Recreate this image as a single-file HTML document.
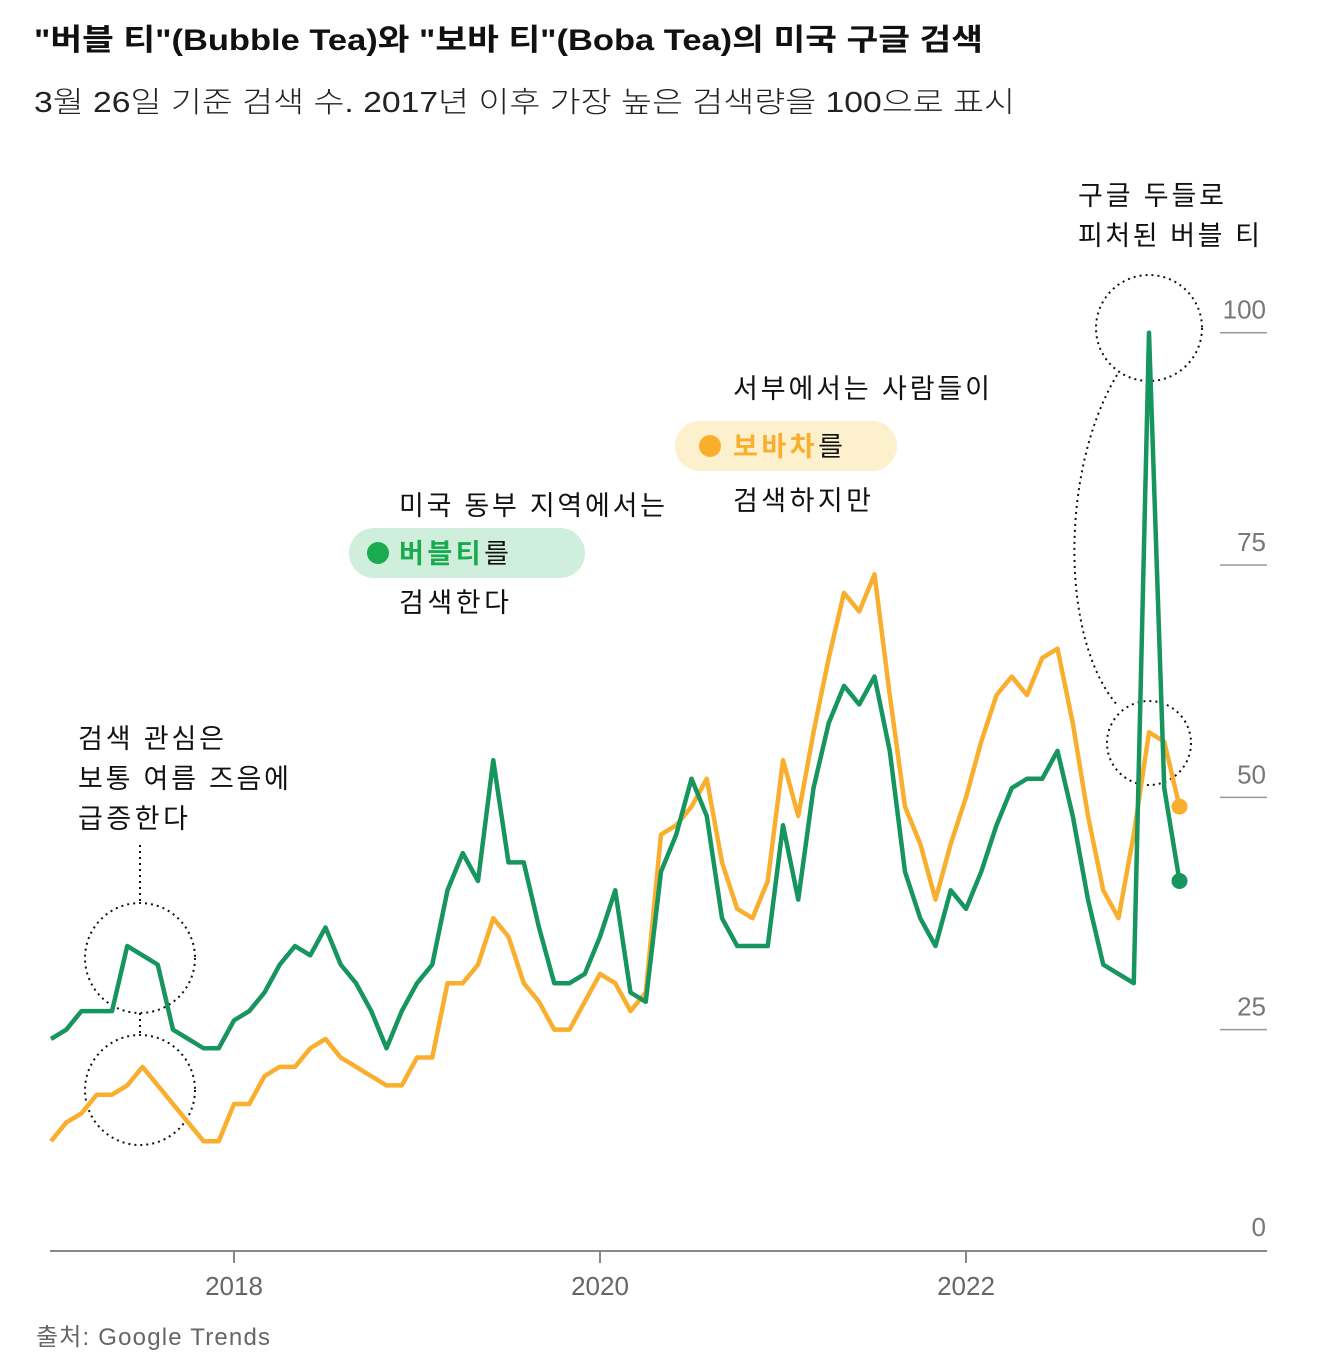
<!DOCTYPE html>
<html><head><meta charset="utf-8"><style>
body{margin:0;background:#fff;}
svg{display:block;font-family:"Liberation Sans","Noto Sans CJK KR",sans-serif;}
</style></head><body>
<svg id="c" width="1322" height="1356" viewBox="0 0 1322 1356">
<text x="34" y="50" font-size="30" font-weight="bold" fill="#111" textLength="949" lengthAdjust="spacingAndGlyphs">"버블 티"(Bubble Tea)와 "보바 티"(Boba Tea)의 미국 구글 검색</text>
<text x="34" y="112" font-size="29" fill="#222" font-weight="300" textLength="981" lengthAdjust="spacingAndGlyphs">3월 26일 기준 검색 수. 2017년 이후 가장 높은 검색량을 100으로 표시</text>
<g id="yaxis"></g>
<g id="xaxis"></g>
<g fill="#111" font-size="27">
<rect x="349" y="528" width="236" height="50" rx="25" fill="#cfeedb"/>
<rect x="675" y="421" width="222" height="50" rx="25" fill="#fdf0cc"/>
<circle cx="378" cy="553" r="11" fill="#1aab4f"/>
<circle cx="710" cy="446" r="11" fill="#f9ae2e"/>
<text x="399" y="515" textLength="266" lengthAdjust="spacing">미국 동부 지역에서는</text>
<text x="399" y="563" textLength="110" lengthAdjust="spacing"><tspan fill="#1aab4f" font-weight="bold">버블티</tspan>를</text>
<text x="399" y="612" textLength="110" lengthAdjust="spacing">검색한다</text>
<text x="733" y="398" textLength="257" lengthAdjust="spacing">서부에서는 사람들이</text>
<text x="733" y="456" textLength="110" lengthAdjust="spacing"><tspan fill="#f9ae2e" font-weight="bold">보바차</tspan>를</text>
<text x="733" y="510" textLength="138" lengthAdjust="spacing">검색하지만</text>
<text x="78" y="748" textLength="146" lengthAdjust="spacing">검색 관심은</text>
<text x="78" y="788" textLength="211" lengthAdjust="spacing">보통 여름 즈음에</text>
<text x="78" y="828" textLength="110" lengthAdjust="spacing">급증한다</text>
<text x="1078" y="205" textLength="146" lengthAdjust="spacing">구글 두들로</text>
<text x="1078" y="245" textLength="182" lengthAdjust="spacing">피처된 버블 티</text>
<g fill="none" stroke="#111" stroke-width="2" stroke-dasharray="2,4">
<circle cx="140" cy="958" r="55"/><circle cx="140" cy="1090" r="55"/>
<circle cx="1149" cy="328" r="53"/><circle cx="1149" cy="743" r="42"/>
<line x1="140" y1="845" x2="140" y2="903"/><line x1="140" y1="1013" x2="140" y2="1035"/>
<path d="M1117,375 C1060,470 1060,640 1118,706"/>
</g></g>
<g id="series"></g>
<text x="36" y="1345" font-size="24" fill="#666" textLength="234" lengthAdjust="spacing">출처: Google Trends</text>
</svg>
<script>
const bubble=[24,25,27,27,27,34,33,32,25,24,23,23,26,27,29,32,34,33,36,32,30,27,23,27,30,32,40,44,41,54,43,43,36,30,30,31,35,40,29,28,42,46,52,48,37,34,34,34,47,39,51,58,62,60,63,55,42,37,34,40,38,42,47,51,52,52,55,48,39,32,31,30,100,51,41];
const boba=[13,15,16,18,18,19,21,19,17,15,13,13,17,17,20,21,21,23,24,22,21,20,19,19,22,22,30,30,32,37,35,30,28,25,25,28,31,30,27,29,46,47,49,52,43,38,37,41,54,48,57,65,72,70,74,61,49,45,39,45,50,56,61,63,61,65,66,58,48,40,37,46,57,56,49];
const yTicks=[0,25,50,75,100];
const xYears=[2018,2020,2022];
const startYear=2017;
const NS="http://www.w3.org/2000/svg";
const svg=document.getElementById('c');
const y=v=>1262-v*9.293;
const x=i=>51+15.25*i;
const xYear=yr=>51+(yr-startYear)*183;
function mk(t,a,p){const e=document.createElementNS(NS,t);for(const k in a)e.setAttribute(k,a[k]);p.appendChild(e);return e;}
const ya=document.getElementById('yaxis');
yTicks.forEach(v=>{
  if(v>0){const l=mk('line',{x1:1220,x2:1267,y1:y(v),y2:y(v),stroke:'#999','stroke-width':1.5},ya);
  
  }
  const t=mk('text',{x:1266,y:y(v)-14-(v===0?12:0),'text-anchor':'end','font-size':26,fill:'#777'},ya);
  t.textContent=v;
  
  
});
const xa=document.getElementById('xaxis');
const ax=mk('line',{x1:50,x2:1267,y1:1251,y2:1251,stroke:'#888','stroke-width':2},xa);


xYears.forEach(yr=>{
  const l=mk('line',{x1:xYear(yr),x2:xYear(yr),y1:1251,y2:1263,stroke:'#888','stroke-width':2},xa);
  
  
  const t=mk('text',{x:xYear(yr),y:1295,'text-anchor':'middle','font-size':26,fill:'#666'},xa);
  t.textContent=yr;
  
  
});
const g=document.getElementById('series');
[[boba,'#f9ae2e','boba-tea-line'],[bubble,'#17955f','bubble-tea-line']].forEach(([d,c,n])=>{
  const p=mk('polyline',{points:d.map((v,i)=>x(i)+','+y(v)).join(' '),fill:'none',stroke:c,'stroke-width':4.5,'stroke-linejoin':'round'},g);
  
  
  const e=mk('circle',{cx:x(d.length-1),cy:y(d[d.length-1]),r:8,fill:c},g);
  
  
});
</script>
</body></html>
